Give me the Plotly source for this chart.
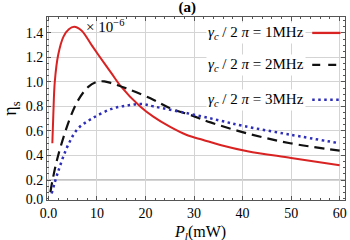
import plotly.graph_objects as go

# ---- data (values in units of 1e-6) ----
red_x = [0.8, 1.0, 1.3, 2.0, 3.1, 4.2, 5.3, 6.8, 8.9, 10.3, 13.0, 14.7, 18.9, 21.6, 25.0, 28.5, 31.9, 35.4, 41.0, 50.0, 60.0]
red_y = [0.50, 0.73, 1.00, 1.22, 1.37, 1.43, 1.45, 1.42, 1.30, 1.22, 1.07, 0.975, 0.80, 0.717, 0.635, 0.567, 0.527, 0.486, 0.435, 0.38, 0.32]

black_x = [0.4, 0.8, 2.0, 4.4, 6.1, 8.2, 9.9, 11.5, 13.0, 16.9, 21.7, 25.1, 29.3, 33.4, 41.0, 49.8, 60.0]
black_y = [0.10, 0.19, 0.40, 0.70, 0.85, 0.96, 1.00, 1.005, 0.99, 0.935, 0.853, 0.785, 0.73, 0.67, 0.58, 0.50, 0.44]

blue_x = [0.66, 2.0, 4.1, 6.1, 8.9, 13.0, 16.5, 19.2, 21.7, 28.6, 34.8, 40.3, 49.8, 60.0]
blue_y = [0.09, 0.27, 0.49, 0.62, 0.70, 0.78, 0.81, 0.82, 0.80, 0.745, 0.69, 0.64, 0.57, 0.50]

series_names = ["<i>γ<sub>c</sub></i> / 2 <i>π</i> = 1MHz",
                "<i>γ<sub>c</sub></i> / 2 <i>π</i> = 2MHz",
                "<i>γ<sub>c</sub></i> / 2 <i>π</i> = 3MHz"]

x_tickvals = [0, 10, 20, 30, 40, 50, 60]
x_ticktext = ["0.0", "10", "20", "30", "40", "50", "60"]
y_tickvals = [0.045, 0.2, 0.4, 0.6, 0.8, 1.0, 1.2, 1.4]
y_ticktext = ["0.0", "0.2", "0.4", "0.6", "0.8", "1.0", "1.2", "1.4"]
ref_line = 0.2
x_title = "<i>P<sub>l</sub></i>(mW)"
y_title = "η<sub>s</sub>"

FONT = "Liberation Serif"
RED = "#d92323"
BLACK = "#111111"
BLUE = "#2e2eb8"

fig = go.Figure()
fig.add_trace(go.Scatter(x=red_x, y=red_y, mode="lines", line=dict(color=RED, width=2, shape="spline"),
                         name=series_names[0], showlegend=False))
fig.add_trace(go.Scatter(x=black_x, y=black_y, mode="lines",
                         line=dict(color=BLACK, width=2.2, dash="10px,6px", shape="spline"),
                         name=series_names[1], showlegend=False))
fig.add_trace(go.Scatter(x=blue_x, y=blue_y, mode="lines",
                         line=dict(color=BLUE, width=2.5, dash="2.5px,3.5px", shape="spline"),
                         name=series_names[2], showlegend=False))

fig.add_hline(y=ref_line, line=dict(color="#8a8a8a", width=1.2), layer="below")

# legend drawn as text (left) with line samples (right), like the reference
legend_rows = [(0.913, RED, "solid"), (0.738, BLACK, "8px,8px"), (0.548, BLUE, "2.5px,3.5px")]
for name, (yy, col, dash) in zip(series_names, legend_rows):
    fig.add_annotation(xref="paper", yref="paper", x=0.87, y=yy, xanchor="right", yanchor="middle",
                       text=name, showarrow=False, bgcolor="white",
                       font=dict(family=FONT, size=15, color="black"))
    fig.add_shape(type="line", xref="paper", yref="paper", x0=0.89, x1=0.985, y0=yy, y1=yy,
                  line=dict(color=col, width=2.3 if col != BLUE else 2.6, dash=dash))

fig.add_annotation(xref="paper", yref="paper", x=0.125, y=0.95, xanchor="left", yanchor="middle",
                   text="× 10<sup>−6</sup>", showarrow=False, font=dict(family=FONT, size=15, color="black"))

# x-axis title placed below the tick labels
fig.add_annotation(xref="paper", yref="paper", x=0.513, y=-0.175, xanchor="center", yanchor="middle",
                   text=x_title, showarrow=False, font=dict(family=FONT, size=16, color="black"))

fig.update_layout(
    width=350, height=240,
    margin=dict(l=47, r=5, t=17, b=40),
    paper_bgcolor="white", plot_bgcolor="white",
    font=dict(family=FONT, size=14, color="black"),
    title=dict(text="<b>(a)</b>", x=0.535, xanchor="center", y=0.97, yanchor="middle",
               font=dict(family=FONT, size=15, color="black")),
)

fig.update_xaxes(range=[-0.3, 61.1], tickvals=x_tickvals, ticktext=x_ticktext, automargin=False,
                 showgrid=True, gridcolor="#d4d4d4", gridwidth=1,
                 showline=True, linecolor="#555555", linewidth=1, mirror="allticks",
                 ticks="inside", ticklen=4, tickcolor="#555555", zeroline=False,
                 minor=dict(dtick=2, tick0=0, ticks="inside", ticklen=2, tickcolor="#555555", showgrid=False),
                 tickfont=dict(family=FONT, size=14))
fig.update_yaxes(range=[0.037, 1.53], tickvals=y_tickvals, ticktext=y_ticktext, automargin=False,
                 showgrid=True, gridcolor="#d4d4d4", gridwidth=1,
                 showline=True, linecolor="#555555", linewidth=1, mirror="allticks",
                 ticks="inside", ticklen=4, tickcolor="#555555", zeroline=False,
                 minor=dict(dtick=0.05, tick0=0, ticks="inside", ticklen=2, tickcolor="#555555", showgrid=False),
                 title=dict(text=y_title, standoff=4, font=dict(family=FONT, size=18)),
                 tickfont=dict(family=FONT, size=14))

fig.write_html("out.html", config={"displayModeBar": False},
               post_script="document.body.style.margin='0';document.body.style.padding='0';")
